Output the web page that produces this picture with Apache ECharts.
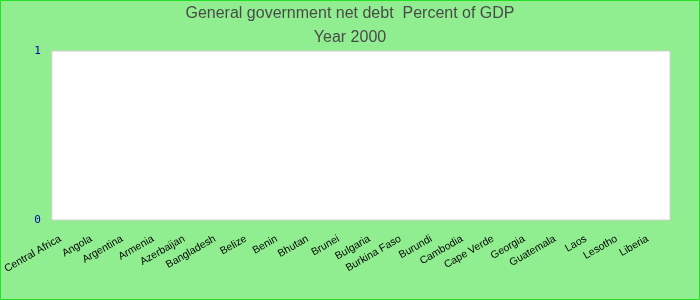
<!DOCTYPE html>
<html><head><meta charset="utf-8">
<script src="https://cdn.jsdelivr.net/npm/echarts@6/dist/echarts.min.js"></script>
<style>html,body{margin:0;padding:0;}#c{width:700px;height:300px;}</style>
</head><body><div id="c"></div>
<script>
var categories = ["Central Africa","Angola","Argentina","Armenia","Azerbaijan","Bangladesh","Belize","Benin","Bhutan","Brunei","Bulgaria","Burkina Faso","Burundi","Cambodia","Cape Verde","Georgia","Guatemala","Laos","Lesotho","Liberia"];
var values = [null,null,null,null,null,null,null,null,null,null,null,null,null,null,null,null,null,null,null,null];
var yTicks = [0, 1];
var titleText = "General government net debt  Percent of GDP";
var subText = "Year 2000";

var chart = echarts.init(document.getElementById('c'), null, {renderer:'canvas'});
chart.setOption({
  backgroundColor: '#90ee90',
  animation: false,
  graphic: [{type:'rect', shape:{x:0.5,y:0.5,width:699,height:299}, style:{fill:'none', stroke:'#22e022', lineWidth:1}, silent:true}],
  title: {
    text: titleText, subtext: subText, left: 'center', top: 1, itemGap: 8,
    textStyle: {fontFamily:'Liberation Sans, Arial', fontSize:16, fontWeight:'normal', color:'#4a4a4a'},
    subtextStyle: {fontFamily:'Liberation Sans, Arial', fontSize:16, color:'#4a4a4a'}
  },
  grid: {left:50, right:30, top:51, bottom:80, show:true, backgroundColor:'#ffffff', borderColor:'#d0d0d0', borderWidth:1, containLabel:false},
  xAxis: {
    type:'category', data: categories,
    axisLine:{show:false}, axisTick:{show:false}, splitLine:{show:false},
    axisLabel:{rotate:30, interval:0, fontFamily:'Liberation Sans, Arial', fontSize:10.5, color:'#000', margin:14, padding:[0,8,0,0]}
  },
  yAxis: {
    type:'value', min: yTicks[0], max: yTicks[yTicks.length-1], interval: 1,
    axisLine:{show:false}, axisTick:{show:false}, splitLine:{show:false},
    axisLabel:{fontFamily:'DejaVu Sans Mono', fontSize:11, color:'#0000aa', margin:11}
  },
  series: [{type:'bar', data: values}]
});
</script></body></html>
